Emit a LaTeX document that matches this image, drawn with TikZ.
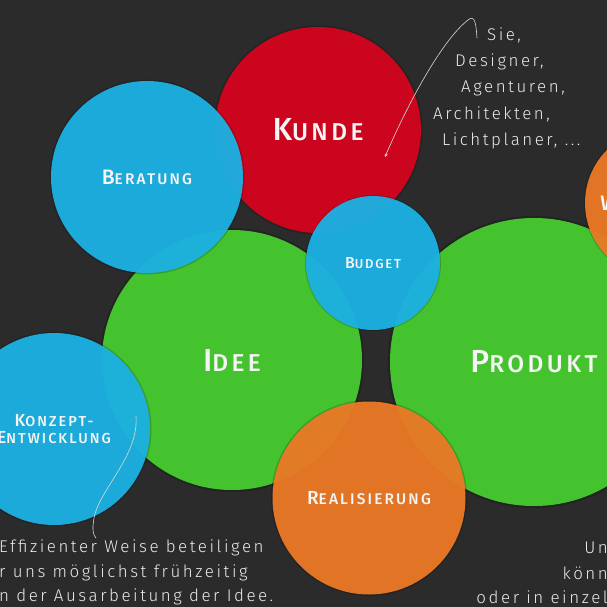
\documentclass[tikz,border=0pt]{standalone}
\usepackage{fontspec}
\usetikzlibrary{shadows,arrows}
\newfontfamily\labelfont[LetterSpace=14]{Fira Sans Medium}
\newfontfamily\handfont[LetterSpace=15]{Fira Sans Light}
\newcommand\capsword[4]{{\fontsize{#1}{#1}\selectfont #3}{\fontsize{#2}{#2}\selectfont #4}}
\definecolor{bgcolor}{RGB}{43,43,43}
\definecolor{kundered}{RGB}{214,4,30}
\definecolor{bubbleblue}{RGB}{28,178,228}
\definecolor{ideegreen}{RGB}{70,204,48}
\definecolor{realorange}{RGB}{236,122,38}
\begin{document}
\begin{tikzpicture}[x=1bp,y=-1bp,>=stealth,
  bubble/.style={circle,inner sep=0pt,minimum size=#1,text=white!96!black,
    font=\labelfont,align=center,fill opacity=0.95,text opacity=1,
    general shadow={fill=black,opacity=0.18,shadow scale=1.015}},
  handtext/.style={text=white!92!black,font=\handfont\fontsize{17}{17}\selectfont,inner sep=0pt},
  pointer/.style={draw=white!85!black,line width=0.6bp}]
%%
  \fill[bgcolor] (0,0) rectangle (607,607);
  \useasboundingbox (0,0) rectangle (607,607);
  \clip (0,0) rectangle (607,607);
  % big circles first
  \node (kunde) at (318,130) [bubble=206bp,fill=kundered] {\capsword{32}{24.5}{K}{UNDE}};
  \node (idee) at (232,360) [bubble=260bp,fill=ideegreen] {\capsword{32}{24.5}{I}{DEE}};
  \node (produkt) at (534,362) [bubble=288bp,fill=ideegreen] {\capsword{32}{24.5}{P}{RODUKT}};
  \node (weiteres) at (660,203) [bubble=150bp,fill=realorange] {\capsword{21}{16}{W}{}\hspace{102bp}};
  % small circles on top
  \node (beratung) at (147,177) [bubble=192bp,fill=bubbleblue] {\capsword{21}{15.5}{B}{ERATUNG}};
  \node (budget) at (373,263) [bubble=134bp,fill=bubbleblue] {\capsword{16}{13}{B}{UDGET}};
  \node (konzept) at (54,429) [bubble=192bp,fill=bubbleblue] {\capsword{17.5}{14.5}{K}{ONZEPT-}\\[3bp]\capsword{17.5}{14.5}{E}{NTWICKLUNG}};
  \node (realisierung) at (369,498) [bubble=193bp,fill=realorange] {\capsword{19}{15.5}{R}{EALISIERUNG}};
  % notes
  \node (sie) at (487,35) [handtext,anchor=west] {Sie,};
  \node (designer) at (455,62) [handtext,anchor=west] {Designer,};
  \node (agenturen) at (461,88) [handtext,anchor=west] {Agenturen,};
  \node (architekten) at (433,114) [handtext,anchor=west] {Architekten,};
  \node (lichtplaner) at (442,141) [handtext,anchor=west] {Lichtplaner, ...};
  \node (effizient) at (-1,548) [handtext,anchor=west] {Effizienter Weise beteiligen};
  \node (fruehzeitig) at (-1,573) [handtext,anchor=west] {r uns möglichst frühzeitig};
  \node (ausarbeitung) at (-1,597) [handtext,anchor=west] {n der Ausarbeitung der Idee.};
  \node (un) at (608,548) [handtext,anchor=east] {Un};
  \node (koenn) at (608,573) [handtext,anchor=east] {könn};
  \node (einzel) at (608,597) [handtext,anchor=east] {oder in einzel};
  % pointers
  \coordinate (siestart) at (477,38);
  \coordinate (kundetip) at (385,157);
  \coordinate (konzepttip) at (136,416);
  \coordinate (notestart) at (96,538);
  \draw[pointer,->] (siestart) ..controls (476,24) and (475,14) .. (468,20) .. controls (440,42) and (405,110) .. (kundetip);
  \draw[pointer] (konzepttip) ..controls (139,456) and (100,488) .. (94,518) .. controls (92,530) and (93,535) .. (notestart);
%
\end{tikzpicture}
\end{document}
